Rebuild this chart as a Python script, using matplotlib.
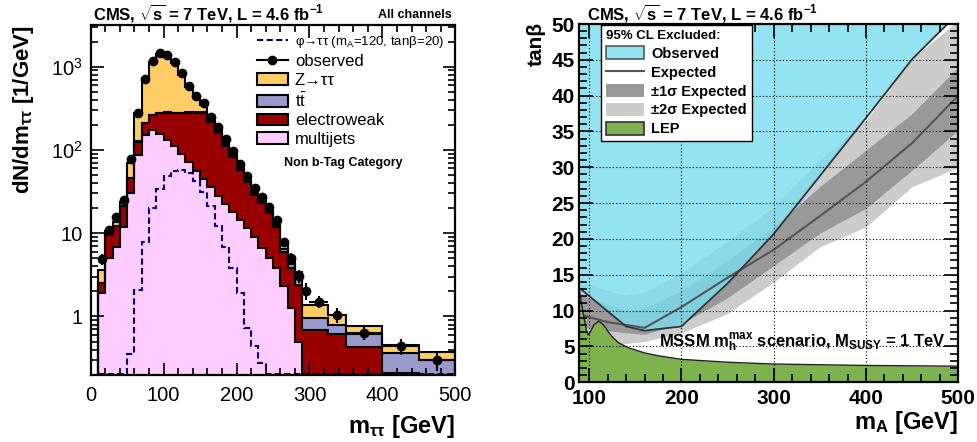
import numpy as np
import matplotlib
matplotlib.use("Agg")
import matplotlib.pyplot as plt
from matplotlib.lines import Line2D
from matplotlib.patches import Patch
from matplotlib.ticker import MultipleLocator, FixedLocator, FixedFormatter, LogLocator, NullFormatter

plt.rcParams['font.family'] = ['Liberation Sans', 'DejaVu Sans']
plt.rcParams['mathtext.fontset'] = 'custom'
plt.rcParams['mathtext.rm'] = 'Liberation Sans'
plt.rcParams['mathtext.it'] = 'Liberation Sans:italic'
plt.rcParams['mathtext.bf'] = 'Liberation Sans:bold'

# ---- left panel: m_tautau in the non b-tag category (dN/dm, 1/GeV) ----
edges = [10, 20, 30, 40, 50, 60, 70, 80, 90, 100, 110, 120, 130, 140, 150, 160, 170, 180,
         190, 200, 210, 220, 230, 240, 250, 260, 270, 280, 290, 300, 325, 350, 400, 450, 500]
multijets = [1.9, 5.0, 6.9, 12, 30, 86, 150, 172, 156, 133, 112, 90, 71, 56, 45, 36, 28, 22.5,
             18, 14.5, 11.5, 9.0, 6.6, 5.0, 3.8, 2.3, 1.25, 0.5, 0, 0, 0, 0, 0, 0]
electroweak = [0.6, 4.5, 5.3, 9, 15.7, 40, 59, 91, 120, 147, 164, 185, 207, 224, 233, 179, 132, 87.5,
               65, 43, 30.2, 20, 16.4, 12.4, 8.2, 3.7, 2.55, 1.9, 0.69, 0.69, 0.62, 0.43, 0.21, 0.1]
ttbar = [0.05, 0.1, 0.15, 0.3, 0.5, 1, 2, 3, 4, 4.5, 5, 5, 5, 5, 4.5, 4, 3.5, 3,
         2.5, 2, 1.6, 1.2, 1.0, 0.8, 0.6, 0.5, 0.45, 0.4, 0.27, 0.27, 0.17, 0.19, 0.15, 0.2]
ztautau = [1.05, 0.9, 1.45, 2.7, 23.3, 149, 481, 882, 1136, 1064, 815, 520, 287, 155, 60, 21, 16.5, 9,
           5.5, 2.5, 1.7, 0.8, 1.5, 0.8, 1.2, 0.75, 0.55, 0.6, 0.42, 0.42, 0.26, 0.14, 0.09, 0.07]
observed = [4.9, 11, 15.5, 25, 77, 280, 715, 1170, 1445, 1390, 1148, 832, 588, 450, 363, 251, 188, 136,
            97, 67, 49, 34.7, 27.5, 20.5, 14.5, 7.9, 5.0, 3.1, 2.05, 1.5, 1.05, 0.63, 0.44, 0.30]
signal = [0, 0, 0, 0, 0.35, 2.1, 7.9, 20, 34, 48, 56, 57.5, 52.5, 42, 31, 21, 12.3, 6.9,
          3.8, 1.9, 0.72, 0.44, 0.28, 0, 0, 0, 0, 0, 0, 0, 0, 0, 0, 0]

# ---- right panel: tan(beta) exclusion vs m_A ----
obs_mass = [90, 140, 160, 200, 250, 300, 350, 400, 450, 500]
obs_tanb = [13.1, 7.8, 7.2, 7.8, 13.8, 20.7, 28.8, 36.9, 45.1, 51.5]
exp_mass = [90, 100, 120, 140, 160, 200, 250, 300, 350, 400, 450, 500]
exp_tanb = [9.5, 9.1, 8.4, 8.0, 7.6, 10.5, 14.6, 18.5, 23.2, 28.0, 33.4, 40.0]
exp_1s_lo = [7.8, 7.6, 7.2, 6.9, 6.7, 8.2, 11.8, 16.3, 20.8, 24.3, 29.6, 35.2]
exp_1s_hi = [12.4, 11.8, 10.8, 10.0, 10.3, 12.8, 17.0, 21.7, 27.3, 32.4, 37.5, 44.0]
exp_2s_lo = [6.3, 6.0, 5.6, 5.4, 5.7, 6.9, 9.6, 14.0, 18.9, 21.7, 27.3, 30.0]
exp_2s_hi = [14.3, 13.7, 12.8, 12.1, 12.6, 15.3, 19.7, 24.5, 31.0, 36.6, 45.2, 50.5]
lep_mass = [89, 91, 94, 97, 99, 102, 105, 110, 114, 118, 121, 126, 132, 143, 160, 175, 200, 250, 300, 400, 500]
lep_tanb = [13.3, 11.5, 9.3, 7.3, 6.6, 7.2, 8.0, 8.5, 8.2, 7.6, 7.0, 6.2, 5.5, 4.8, 4.1, 3.7, 3.2, 2.8, 2.55, 2.35, 2.25]

W, H = 978, 442


def fx(x):
    return x / W


def fy(y):
    return 1 - y / H


def root_ticks(ax, major, minor):
    ax.tick_params(which='both', direction='in', top=True, right=True, width=1.2)
    ax.tick_params(which='major', length=major)
    ax.tick_params(which='minor', length=minor)
    for s in ax.spines.values():
        s.set_linewidth(1.6)


fig = plt.figure(figsize=(W / 100, H / 100), dpi=100)

# ================= left =================
ax1 = fig.add_axes([fx(90.7), fy(374.7), fx(455.3 - 90.7), (374.7 - 25) / H])
edges_a = np.array(edges, dtype=float)
widths = np.diff(edges_a)
centers = edges_a[:-1] + widths / 2
mj = np.array(multijets)
cum_ew = mj + np.array(electroweak)
cum_tt = cum_ew + np.array(ttbar)
cum_z = cum_tt + np.array(ztautau)
ylo, yhi = 0.2, 3160
floor = 1e-3
layers = [(cum_z, '#FFCC66'), (cum_tt, '#9999CC'), (cum_ew, '#990000'), (mj, '#FFCCFF')]
for vals, col in layers:
    v = np.where(vals > 0, vals, floor)
    ax1.stairs(v, edges_a, baseline=floor, fill=True, color=col, lw=0)
for vals, col in layers:
    v = np.where(vals > 0, vals, floor)
    ax1.stairs(v, edges_a, baseline=floor, color='black', lw=1.5)

sig = np.maximum(np.array(signal), ylo * 1.02)
ax1.stairs(sig, edges_a, baseline=None, color='#000080', lw=1.5, ls=(0, (3, 1.6)))

obs = np.array(observed)
err = np.sqrt(obs * widths) / widths
ax1.errorbar(centers, obs, xerr=widths / 2, yerr=err, fmt='o', color='black', ms=6,
             elinewidth=1.5, capsize=0, zorder=5)

ax1.set_yscale('log')
ax1.set_ylim(ylo, yhi)
ax1.set_xlim(0, 500)
ax1.xaxis.set_major_locator(MultipleLocator(100))
ax1.xaxis.set_minor_locator(MultipleLocator(20))
ax1.yaxis.set_major_locator(FixedLocator([1, 10, 100, 1000]))
ax1.yaxis.set_major_formatter(FixedFormatter(['1', '10', '10$^{2}$', '10$^{3}$']))
ax1.yaxis.set_minor_locator(LogLocator(subs=np.arange(2, 10)))
ax1.yaxis.set_minor_formatter(NullFormatter())
root_ticks(ax1, 9, 5)
ax1.tick_params(axis='both', labelsize=14.5)
ax1.tick_params(axis='x', pad=8)
ax1.tick_params(axis='y', pad=6)

handles = [
    Line2D([], [], color='#000080', lw=1.5, ls=(0, (3, 1.6))),
    Line2D([], [], color='black', marker='o', ms=6, lw=1.5),
    Patch(facecolor='#FFCC66', edgecolor='black', lw=1.5),
    Patch(facecolor='#9999CC', edgecolor='black', lw=1.5),
    Patch(facecolor='#990000', edgecolor='black', lw=1.5),
    Patch(facecolor='#FFCCFF', edgecolor='black', lw=1.5),
]
labels = [r'φ→ττ (m$_\mathrm{A}$=120, tanβ=20)', 'observed', 'Z→ττ',
          r't$\mathrm{\bar{t}}$', 'electroweak', 'multijets']
leg = ax1.legend(handles, labels, loc='upper left', bbox_to_anchor=(0.455, 0.975),
                 frameon=False, fontsize=12, handlelength=1.9, handletextpad=0.4,
                 labelspacing=0.22, borderpad=0, borderaxespad=0)
leg.get_texts()[0].set_fontsize(9.5)

ax1.text(0.692, 0.605, 'Non b-Tag Category', transform=ax1.transAxes, ha='center',
         va='center', fontsize=9, fontweight='bold')

fig.text(fx(93), fy(19), r'CMS, $\mathbf{\sqrt{s}}$ = 7 TeV, L = 4.6 fb$^{\mathbf{-1}}$',
         fontsize=12, fontweight='bold', va='baseline')
fig.text(fx(452), fy(18), 'All channels', fontsize=9, fontweight='bold', ha='right', va='baseline')
fig.text(fx(23.5), fy(25), r'dN/d$\mathbf{m_{\tau\tau}}$ [1/GeV]', rotation=90, ha='center',
         va='top', fontsize=16, fontweight='bold')
fig.text(fx(455), fy(427), r'$\mathbf{m_{\tau\tau}}$ [GeV]', ha='right', va='center',
         fontsize=17, fontweight='bold')

# ================= right =================
ax2 = fig.add_axes([fx(579), fy(382.3), fx(958.3 - 579), (382.3 - 24) / H])
ax2.set_xlim(89, 500)
ax2.set_ylim(0, 50)
blue = '#79DDF1'
green = '#7DB24E'
ax2.fill_between(exp_mass, exp_2s_lo, exp_2s_hi, color='#CCCCCC', lw=0)
ax2.fill_between(exp_mass, exp_1s_lo, exp_1s_hi, color='#999999', lw=0)
ax2.plot(exp_mass, exp_tanb, color='#555555', lw=1.5)
ax2.fill_between(obs_mass, obs_tanb, ax2.get_ylim()[1], color=blue, alpha=0.8, lw=0)
ax2.plot(obs_mass, obs_tanb, color='#333333', lw=1.3)
ax2.fill_between(lep_mass, 0, lep_tanb, color=green, lw=0, zorder=2)
ax2.plot(lep_mass, lep_tanb, color='#222222', lw=1.0, zorder=2.2)
ax2.set_axisbelow(False)
ax2.grid(True, which='major', ls=(0, (1, 2)), color='black', lw=0.8)

ax2.xaxis.set_major_locator(MultipleLocator(100))
ax2.xaxis.set_minor_locator(MultipleLocator(20))
ax2.yaxis.set_major_locator(MultipleLocator(5))
ax2.yaxis.set_minor_locator(MultipleLocator(1))
root_ticks(ax2, 10, 6)
ax2.tick_params(axis='both', labelsize=15)
ax2.tick_params(axis='x', pad=5)
ax2.tick_params(axis='y', pad=3)
for lab in ax2.get_xticklabels() + ax2.get_yticklabels():
    lab.set_fontweight('bold')

h2 = [
    Patch(facecolor=blue, alpha=0.8, edgecolor='#333333', lw=1.2),
    Line2D([], [], color='#555555', lw=1.5),
    Patch(facecolor='#999999', edgecolor='none'),
    Patch(facecolor='#CCCCCC', edgecolor='none'),
    Patch(facecolor=green, edgecolor='#333333', lw=1.2),
]
l2 = ['Observed', 'Expected', '±1σ Expected', '±2σ Expected', 'LEP']
leg2 = ax2.legend(h2, l2, loc='upper left', bbox_to_anchor=(0.058, 0.998), title='95% CL Excluded:',
                  alignment='left', prop={'weight': 'bold', 'size': 10.5},
                  title_fontproperties={'weight': 'bold', 'size': 9.5},
                  frameon=True, fancybox=False, edgecolor='black', framealpha=1,
                  handlelength=2.6, handleheight=1.0, handletextpad=0.5, labelspacing=0.3,
                  borderpad=0.35, borderaxespad=0)
leg2.get_frame().set_linewidth(1.0)

ax2.text(0.966, 0.1, r'MSSM $\mathbf{m_h^{max}}$ scenario, $\mathbf{M_{SUSY}}$ = 1 TeV',
         transform=ax2.transAxes, ha='right', va='baseline', fontsize=12, fontweight='bold')

fig.text(fx(587), fy(19), r'CMS, $\mathbf{\sqrt{s}}$ = 7 TeV, L = 4.6 fb$^{\mathbf{-1}}$',
         fontsize=12, fontweight='bold', va='baseline')
fig.text(fx(536), fy(22), 'tanβ', rotation=90, ha='center', va='top', fontsize=15, fontweight='bold')
fig.text(fx(958), fy(422), r'$\mathbf{m_A}$ [GeV]', ha='right', va='center', fontsize=17,
         fontweight='bold')

fig.savefig('out.png', dpi=100)
